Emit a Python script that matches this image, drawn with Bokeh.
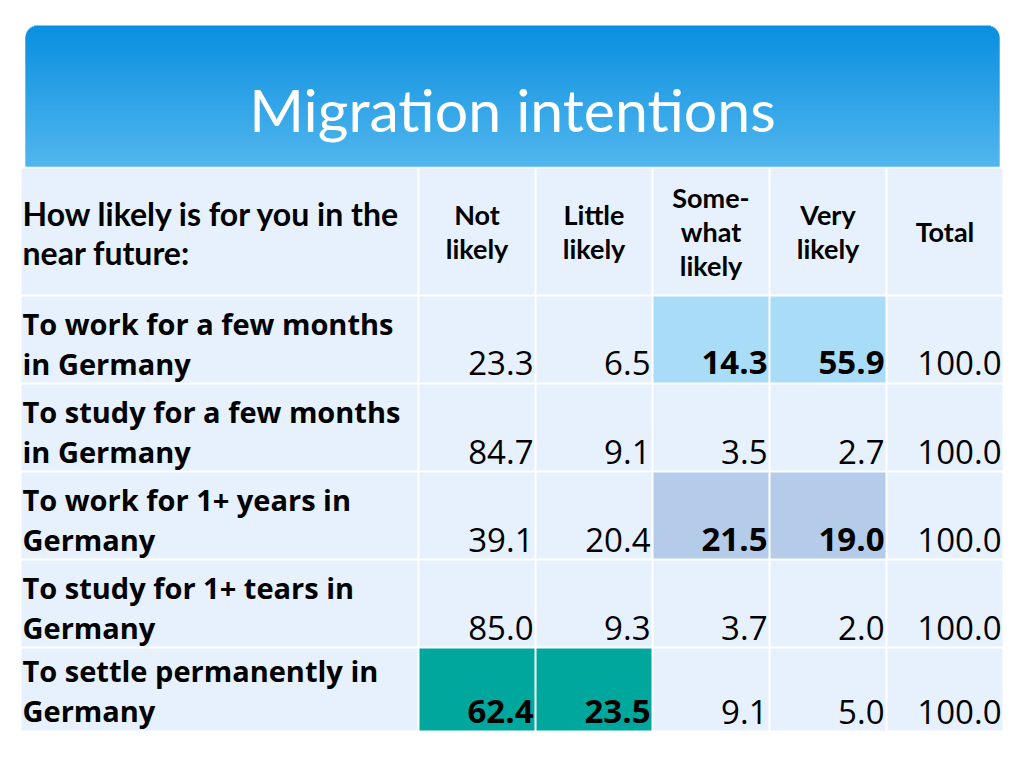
from bokeh.plotting import figure
from bokeh.models import Range1d
from bokeh.core.properties import value
from bokeh.embed import file_html
from bokeh.resources import INLINE

# ---- data ----
title = "Migration intentions"
corner_header = ["How likely is for you in the", "near future:"]
col_headers = [["Not", "likely"], ["Little", "likely"], ["Some-", "what", "likely"],
               ["Very", "likely"], ["Total"]]
row_labels = [["To work for a few months", "in Germany"],
              ["To study for a few months", "in Germany"],
              ["To work for 1+ years in", "Germany"],
              ["To study for 1+ tears in", "Germany"],
              ["To settle permanently in", "Germany"]]
not_likely = [23.3, 84.7, 39.1, 85.0, 62.4]
little_likely = [6.5, 9.1, 20.4, 9.3, 23.5]
somewhat_likely = [14.3, 3.5, 21.5, 3.7, 9.1]
very_likely = [55.9, 2.7, 19.0, 2.0, 5.0]
total = [100.0, 100.0, 100.0, 100.0, 100.0]
columns = [not_likely, little_likely, somewhat_likely, very_likely, total]

# highlighted cells: (row, col) -> colour ; col index 0 = first value column
highlight = {(0, 2): "#a9dcf7", (0, 3): "#a9dcf7",
             (2, 2): "#b4cbea", (2, 3): "#b4cbea",
             (4, 0): "#00a79d", (4, 1): "#00a79d"}

# ---- layout (page pixels) ----
W, H = 1008, 752
col_edges = [20, 418, 535, 652, 769, 886, 1003]
row_edges = [167, 295, 383, 471, 559, 647, 731]
cell_bg = "#e6f1fd"

p = figure(width=W, height=H, output_backend="svg", toolbar_location=None,
           x_range=Range1d(0, W), y_range=Range1d(H, 0),
           min_border=0, outline_line_color=None)
p.axis.visible = False
p.grid.visible = False
p.background_fill_color = "white"
p.border_fill_color = "white"

# ---- banner with vertical gradient and rounded top corners ----
bx0, bx1, by0, by1, r = 25, 999, 25, 166, 12
c_top = (10, 143, 223)
c_bot = (82, 182, 238)
n = int(by1 - by0)
L, R, T, B, C = [], [], [], [], []
for i in range(n):
    t = i / (n - 1)
    col = tuple(int(round(c_top[k] + (c_bot[k] - c_top[k]) * t)) for k in range(3))
    y = by0 + i
    inset = 0.0
    if i < r:
        dy = r - (i + 0.5)
        inset = r - (r * r - dy * dy) ** 0.5
    L.append(bx0 + inset); R.append(bx1 - inset); T.append(y)
    B.append(y + (1 if i == n - 1 else 2))
    C.append("#%02x%02x%02x" % col)
p.quad(left=L, right=R, top=T, bottom=B, fill_color=C, line_color=None)

p.text(x=[512], y=[109], text=[title], text_color="white", text_font=value("Lato"),
       text_font_size="59px", text_align="center", text_baseline="middle")

# ---- table cells ----
cl, cr, ct, cb, cc = [], [], [], [], []
for ri in range(len(row_edges) - 1):
    for ci in range(len(col_edges) - 1):
        cl.append(col_edges[ci] + 1); cr.append(col_edges[ci + 1] - 1)
        ct.append(row_edges[ri] + 1); cb.append(row_edges[ri + 1] - 1)
        key = (ri - 1, ci - 1)
        cc.append(highlight.get(key, cell_bg))
p.quad(left=cl, right=cr, top=ct, bottom=cb, fill_color=cc, line_color=None)

# ---- header text ----
hx, hy, ht = [], [], []
for j, line in enumerate(corner_header):
    hx.append(22); hy.append(213 + j * 39); ht.append(line)
p.text(x=hx, y=hy, text=ht, text_font=value("Lato"), text_font_style="bold",
       text_font_size="32px", text_color="black", text_align="left", text_baseline="middle")

chx, chy, cht = [], [], []
mid_header = (row_edges[0] + row_edges[1]) / 2
for ci, lines in enumerate(col_headers):
    cx = (col_edges[ci + 1] + col_edges[ci + 2]) / 2
    n_l = len(lines)
    for j, line in enumerate(lines):
        chx.append(cx); chy.append(mid_header + (j - (n_l - 1) / 2) * 34); cht.append(line)
p.text(x=chx, y=chy, text=cht, text_font=value("Lato"), text_font_style="bold",
       text_font_size="27px", text_color="black", text_align="center", text_baseline="middle")

# ---- row labels ----
rx, ry, rt = [], [], []
for ri, lines in enumerate(row_labels):
    base = 323 + ri * 88 if ri < 4 else 670
    for j, line in enumerate(lines):
        rx.append(22); ry.append(base + j * 40); rt.append(line)
p.text(x=rx, y=ry, text=rt, text_font=value("Open Sans"), text_font_style="bold",
       text_font_size="29px", text_color="black", text_align="left", text_baseline="middle")

# ---- values ----
num_y = [362, 451, 539, 627, 711]
vx, vy, vt, bx, byy, bt = [], [], [], [], [], []
for ci, col in enumerate(columns):
    x = col_edges[ci + 2] - 2
    for ri, v in enumerate(col):
        if (ri, ci) in highlight:
            bx.append(x); byy.append(num_y[ri]); bt.append("%.1f" % v)
        else:
            vx.append(x); vy.append(num_y[ri]); vt.append("%.1f" % v)
p.text(x=vx, y=vy, text=vt, text_font=value("Open Sans"), text_font_size="33px",
       text_color="black", text_align="right", text_baseline="middle")
p.text(x=bx, y=byy, text=bt, text_font=value("Open Sans"), text_font_style="bold",
       text_font_size="33px", text_color="black", text_align="right", text_baseline="middle")

open("out.html", "w").write(file_html(p, INLINE))
